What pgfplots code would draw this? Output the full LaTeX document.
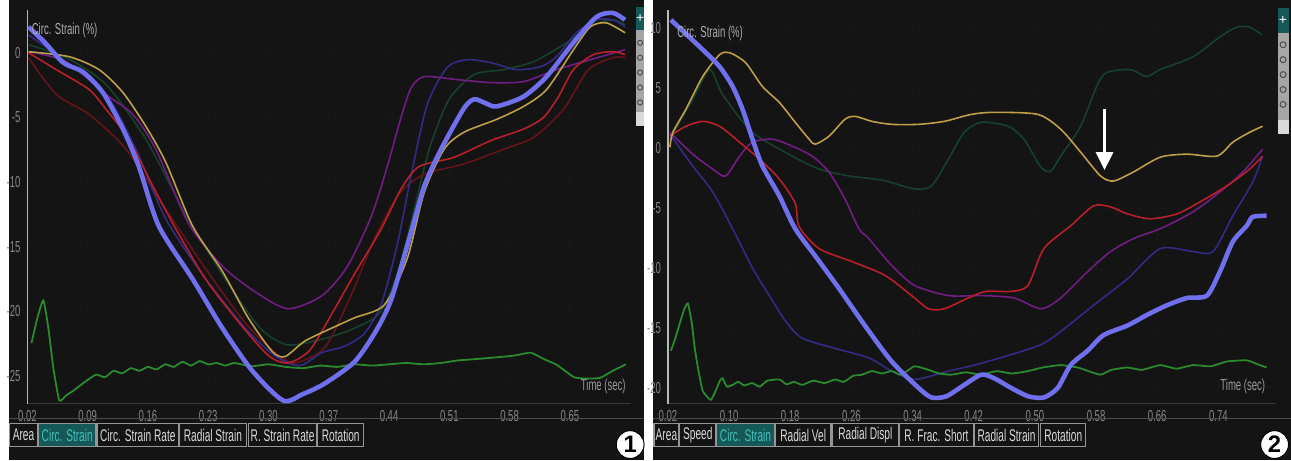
\documentclass[border=0pt]{standalone}
\usepackage{pgfplots}
\pgfplotsset{compat=1.18}
\usetikzlibrary{arrows.meta}
\usepackage{fontspec}
\setmainfont{Liberation Sans}
\newfontfamily\cond[FakeStretch=0.6]{Liberation Sans}
\definecolor{bg}{RGB}{20,20,20}
\definecolor{cblue}{RGB}{112,112,238}
\definecolor{cyel}{RGB}{190,160,72}
\definecolor{cred}{RGB}{185,32,42}
\definecolor{cmar}{RGB}{100,20,26}
\definecolor{cpur}{RGB}{112,30,132}
\definecolor{cnavy}{RGB}{50,44,135}
\definecolor{cdgreen}{RGB}{22,66,44}
\definecolor{cecg}{RGB}{42,138,46}
\definecolor{tickc}{RGB}{135,135,135}
\definecolor{tealbg}{RGB}{20,88,88}
\definecolor{tealtx}{RGB}{70,190,185}
\definecolor{tabline}{RGB}{150,150,150}
\pgfplotsset{
  panel/.style={scale only axis, anchor=south west, height=198pt,
    axis lines=left, axis line style={-},
    x axis line style={draw=white!22!black, line width=0.5pt},
    y axis line style={draw=white!72!black, line width=0.9pt},
    major tick length=0pt, tick style={draw=none},
    grid=major, major grid style={draw=white!11!black, line width=0.4pt, densely dotted},
    tick label style={font=\cond\fontsize{8}{9}\selectfont, text=tickc},
    every axis plot/.append style={smooth, tension=0.45, line width=0.8pt},
  },
}
\newcommand{\tabbox}[3]{%
  \draw[tabline, line width=0.6pt, fill=bg] (#1,14) rectangle (#2,37);
  \node[text=white!85!black, font=\cond\fontsize{8.5}{9}\selectfont, inner sep=0] at ({(#1+#2)/2},25.5) {#3};}
\newcommand{\tabhi}[3]{%
  \draw[tabline, line width=0.6pt, fill=tealbg] (#1,14) rectangle (#2,37);
  \node[text=tealtx, font=\cond\fontsize{8.5}{9}\selectfont, inner sep=0] at ({(#1+#2)/2},25.5) {#3};}
\begin{document}
\begin{tikzpicture}
\begin{scope}[x=0.5pt,y=0.5pt]
\path[use as bounding box] (0,0) rectangle (1291,463);
\fill[white] (0,0) rectangle (1291,463);
\fill[bg] (2,0) rectangle (641,463);
\fill[bg] (650,0) rectangle (1291,463);
\fill[black!92] (650,455) rectangle (1291,463);
\end{scope}

% ---------------- Panel 1 ----------------
\begin{axis}[panel, at={(10.5pt,28.5pt)}, width=303.5pt,
  xmin=0.02, xmax=0.7212, ymin=-27.154, ymax=3.3077,
  xtick={0.02,0.09,0.16,0.23,0.30,0.37,0.44,0.51,0.58,0.65},
  xticklabels={0.02,0.09,0.16,0.23,0.30,0.37,0.44,0.51,0.58,0.65},
  ytick={0,-5,-10,-15,-20,-25}, yticklabels={0,-5,-10,-15,-20,-25}]
\addplot[cdgreen] coordinates {(0.0212,0.62) (0.065,-0.38) (0.1113,-2.46) (0.1575,-6.69) (0.2037,-12.5) (0.2499,-17.5) (0.2903,-21.3) (0.3226,-22.6) (0.3654,-22.1) (0.40,-21.3) (0.4289,-20.15) (0.4497,-17.1) (0.4693,-12.1) (0.4867,-7.46) (0.5098,-3.6) (0.5387,-1.69) (0.5733,-1.31) (0.608,-0.69) (0.6426,0.62) (0.6772,2.15) (0.7004,2.54) (0.7142,2.15)};
\addplot[cmar] coordinates {(0.0212,-0.38) (0.0535,-3.23) (0.0916,-4.77) (0.1344,-7.46) (0.1806,-12.1) (0.2268,-16.7) (0.273,-20.9) (0.3076,-23.2) (0.3307,-24.0) (0.3654,-22.8) (0.3943,-19.0) (0.4231,-14.4) (0.452,-10.9) (0.4809,-9.4) (0.527,-8.6) (0.5733,-7.46) (0.608,-6.54) (0.6426,-4.38) (0.6715,-1.31) (0.7004,-0.38) (0.7142,-0.38)};
\addplot[cnavy] coordinates {(0.0212,1.38) (0.065,-0.69) (0.1113,-3.23) (0.1459,-7.46) (0.1806,-12.85) (0.2268,-17.46) (0.273,-21.3) (0.3076,-23.46) (0.3365,-24.2) (0.3619,-23.2) (0.3885,-22.7) (0.4116,-21.7) (0.4312,-19.4) (0.4497,-14.8) (0.4659,-9.4) (0.4844,-4.0) (0.5075,-1.15) (0.5306,-0.54) (0.5583,-0.77) (0.5883,-1.31) (0.616,-1.08) (0.6345,-0.31) (0.6576,1.54) (0.6807,2.54) (0.7004,2.54) (0.7142,2.0)};
\addplot[cpur] coordinates {(0.0212,0.08) (0.065,-0.7) (0.1113,-3.23) (0.1424,-4.77) (0.169,-7.46) (0.2071,-13.2) (0.2464,-16.5) (0.2845,-18.5) (0.3226,-19.8) (0.3619,-18.8) (0.3919,-16.5) (0.4197,-12.6) (0.4381,-8.77) (0.4543,-4.92) (0.4659,-2.69) (0.4809,-1.85) (0.519,-2.08) (0.5583,-2.31) (0.5964,-2.23) (0.6345,-1.31) (0.6738,-0.54) (0.7142,0.23)};
\addplot[cred] coordinates {(0.0212,0) (0.0535,-1.31) (0.0916,-2.85) (0.1113,-4.38) (0.1378,-6.69) (0.1655,-10.3) (0.1921,-13.6) (0.2268,-17.5) (0.2649,-20.8) (0.2995,-23.4) (0.3226,-24.0) (0.3480,-23.0) (0.3735,-20.2) (0.40,-17.1) (0.4312,-13.6) (0.4543,-10.5) (0.475,-8.8) (0.515,-8.1) (0.5583,-6.8) (0.5964,-5.9) (0.6195,-5.0) (0.6368,-3.4) (0.6542,-1.3) (0.6773,-0.15) (0.7004,0.08) (0.7142,-0.15)};
\addplot[cyel] coordinates {(0.0212,0.08) (0.0685,-0.31) (0.1032,-1.31) (0.1309,-3.08) (0.1575,-5.69) (0.1806,-8.46) (0.2118,-13.4) (0.2464,-16.9) (0.2764,-20.5) (0.3042,-23.1) (0.3192,-23.5) (0.3423,-22.3) (0.3735,-21.3) (0.40,-20.5) (0.4347,-19.5) (0.4612,-15.9) (0.4809,-10.8) (0.504,-7.46) (0.527,-6.15) (0.5652,-5.15) (0.5964,-4.15) (0.623,-2.85) (0.6542,0.23) (0.6738,2.0) (0.6923,2.31) (0.7142,1.54)};
\addplot[cecg, line width=0.9pt, tension=0.3] coordinates {(0.0247,-22.46) (0.0316,-20.5) (0.0385,-19.15) (0.0443,-21.3) (0.0501,-24.4) (0.057,-26.9) (0.065,-26.5) (0.0732,-26.15) (0.0859,-25.5) (0.0997,-24.9) (0.11,-25.1) (0.12,-24.6) (0.13,-24.8) (0.14,-24.4) (0.15,-24.6) (0.16,-24.3) (0.17,-24.5) (0.18,-24.1) (0.19,-24.3) (0.20,-23.9) (0.21,-24.2) (0.22,-23.85) (0.23,-24.1) (0.24,-24.0) (0.25,-24.2) (0.26,-24.0) (0.28,-24.25) (0.30,-24.1) (0.32,-24.3) (0.34,-24.4) (0.36,-24.2) (0.38,-24.3) (0.40,-24.1) (0.42,-24.2) (0.44,-24.1) (0.46,-24.0) (0.48,-24.1) (0.50,-24.0) (0.52,-23.8) (0.54,-23.7) (0.558,-23.6) (0.575,-23.5) (0.588,-23.4) (0.6045,-23.2) (0.62,-23.7) (0.635,-24.15) (0.655,-25.1) (0.67,-25.2) (0.685,-25.15) (0.70,-24.6) (0.715,-24.1)};
\addplot[cblue, line width=2.3pt] coordinates {(0.0212,2.0) (0.040,0.8) (0.0616,-0.77) (0.0847,-1.5) (0.1078,-3.1) (0.1309,-5.9) (0.1494,-8.8) (0.1725,-13.4) (0.2118,-17.5) (0.2464,-21.3) (0.2811,-24.6) (0.3169,-26.9) (0.340,-26.4) (0.365,-25.6) (0.40,-23.9) (0.425,-21.5) (0.443,-19.0) (0.466,-13.8) (0.481,-10.3) (0.5005,-7.46) (0.527,-4.3) (0.539,-3.6) (0.552,-3.9) (0.565,-4.15) (0.596,-3.4) (0.623,-1.85) (0.654,0.77) (0.681,2.77) (0.700,3.08) (0.714,2.54)};
\end{axis}

% ---------------- Panel 2 ----------------
\begin{axis}[panel, at={(332.5pt,28.5pt)}, width=305.5pt,
  xmin=0.02, xmax=0.8148, ymin=-21.328, ymax=11.535,
  xtick={0.02,0.10,0.18,0.26,0.34,0.42,0.50,0.58,0.66,0.74},
  xticklabels={0.02,0.10,0.18,0.26,0.34,0.42,0.50,0.58,0.66,0.74},
  ytick={10,5,0,-5,-10,-15,-20}, yticklabels={10,5,0,-5,-10,-15,-20}]
\addplot[cdgreen] coordinates {(0.0226,0.75) (0.0525,4.07) (0.0746,6.56) (0.0915,4.48) (0.1306,1.33) (0.1826,-0.66) (0.2177,-1.74) (0.2567,-2.32) (0.2997,-2.66) (0.3426,-3.4) (0.3647,-3.15) (0.3868,-0.91) (0.4076,1.33) (0.4298,2.16) (0.4649,1.83) (0.4857,0.75) (0.5078,-1.58) (0.5208,-1.91) (0.5338,-0.66) (0.5598,1.83) (0.5807,5.15) (0.5937,6.31) (0.6249,6.56) (0.6457,5.98) (0.6639,6.56) (0.7068,7.63) (0.7420,9.29) (0.7641,10.1) (0.781,10.1) (0.7966,9.46)};
\addplot[cnavy] coordinates {(0.0226,1.16) (0.0525,-1.49) (0.0785,-3.65) (0.1046,-6.72) (0.1306,-10.0) (0.1527,-12.3) (0.1735,-14.4) (0.1956,-15.85) (0.2385,-16.7) (0.2828,-17.5) (0.3127,-18.6) (0.3426,-19.3) (0.3868,-18.6) (0.4207,-18.1) (0.4649,-17.3) (0.5078,-16.4) (0.5338,-15.3) (0.5768,-13.1) (0.621,-10.9) (0.6639,-8.38) (0.7068,-8.63) (0.7329,-8.63) (0.7589,-5.64) (0.7849,-2.82) (0.7979,-0.66)};
\addplot[cpur] coordinates {(0.0226,1.33) (0.0525,-0.5) (0.0785,-1.74) (0.0954,-2.32) (0.1137,-0.66) (0.1306,0.5) (0.1566,0.75) (0.1826,0.17) (0.2086,-0.66) (0.2307,-1.99) (0.2515,-4.23) (0.2698,-6.72) (0.2828,-7.55) (0.3127,-9.79) (0.3426,-11.45) (0.3868,-12.3) (0.4298,-12.3) (0.4727,-12.5) (0.5078,-13.4) (0.5338,-12.5) (0.5689,-10.3) (0.5989,-8.63) (0.6288,-7.55) (0.6639,-6.72) (0.7068,-5.31) (0.7420,-3.65) (0.7719,-1.99) (0.7979,-0.08)};
\addplot[cred] coordinates {(0.0226,1.0) (0.0434,1.83) (0.0655,2.24) (0.0876,1.83) (0.1137,0.5) (0.1397,-0.91) (0.1657,-2.57) (0.1865,-4.6) (0.1917,-6.56) (0.2177,-8.38) (0.2607,-9.46) (0.3036,-10.6) (0.3387,-12.3) (0.3608,-13.4) (0.3816,-13.4) (0.4128,-12.5) (0.4363,-11.95) (0.4688,-11.95) (0.4909,-11.45) (0.5117,-8.38) (0.5468,-6.47) (0.5768,-4.81) (0.5989,-4.9) (0.621,-5.48) (0.6509,-5.89) (0.686,-5.48) (0.716,-4.48) (0.7511,-3.15) (0.7810,-1.74) (0.7979,-0.66)};
\addplot[cyel] coordinates {(0.0226,0.08) (0.0265,1.33) (0.0434,3.24) (0.0655,5.98) (0.0876,7.8) (0.1006,7.97) (0.1215,7.14) (0.1436,5.15) (0.1657,3.82) (0.1865,2.16) (0.2047,0.75) (0.2125,0.33) (0.2307,1.0) (0.2515,2.41) (0.2646,2.66) (0.2867,2.24) (0.3127,1.99) (0.3478,1.99) (0.3816,2.24) (0.4167,2.82) (0.4467,2.99) (0.5039,2.82) (0.5338,1.58) (0.5598,-0.33) (0.5859,-2.32) (0.6028,-2.74) (0.6288,-1.99) (0.6639,-0.75) (0.699,-0.5) (0.7381,-0.66) (0.7589,0.5) (0.781,1.33) (0.7979,1.83)};
\addplot[cecg, line width=0.9pt, tension=0.3] coordinates {(0.0239,-16.9) (0.030,-15.8) (0.0356,-14.6) (0.041,-13.5) (0.046,-12.95) (0.051,-14.5) (0.0551,-16.7) (0.060,-18.6) (0.0655,-20.25) (0.0759,-21.0) (0.082,-20.3) (0.088,-19.4) (0.0915,-19.2) (0.097,-19.9) (0.1046,-19.75) (0.112,-19.5) (0.12,-19.8) (0.13,-19.6) (0.14,-19.9) (0.15,-19.4) (0.1657,-19.3) (0.175,-19.7) (0.185,-19.5) (0.1956,-19.75) (0.21,-19.4) (0.225,-19.6) (0.2385,-19.3) (0.25,-19.5) (0.262,-19.0) (0.2737,-18.9) (0.2867,-18.6) (0.30,-18.8) (0.3127,-18.6) (0.325,-18.9) (0.3426,-18.2) (0.3608,-18.5) (0.375,-18.8) (0.3907,-18.9) (0.41,-18.7) (0.4298,-18.9) (0.45,-18.6) (0.47,-18.8) (0.4909,-18.6) (0.51,-18.3) (0.5338,-18.1) (0.5559,-18.3) (0.57,-18.6) (0.5859,-18.9) (0.60,-18.5) (0.621,-18.3) (0.64,-18.5) (0.6639,-18.1) (0.685,-18.4) (0.7068,-18.1) (0.73,-18.2) (0.7511,-17.8) (0.7771,-17.7) (0.79,-18.0) (0.8031,-18.3)};
\addplot[cblue, line width=2.3pt] coordinates {(0.0239,10.7) (0.0655,8.22) (0.0876,6.8) (0.1046,5.15) (0.1176,3.24) (0.1306,0.75) (0.1436,-1.49) (0.1657,-3.98) (0.1865,-6.72) (0.2151,-9.2) (0.2437,-11.7) (0.2776,-14.8) (0.3127,-17.8) (0.3478,-20.0) (0.3647,-20.8) (0.3842,-20.7) (0.4076,-19.75) (0.4298,-18.9) (0.4467,-19.2) (0.4688,-20.0) (0.4909,-20.7) (0.5117,-20.8) (0.5299,-20.0) (0.5468,-18.1) (0.5689,-16.9) (0.5898,-15.6) (0.621,-14.8) (0.647,-13.9) (0.673,-13.1) (0.699,-12.5) (0.725,-12.3) (0.742,-10.3) (0.7589,-7.8) (0.7771,-6.47) (0.7849,-5.73) (0.8031,-5.64)};
\end{axis}

\begin{scope}[x=0.5pt,y=0.5pt]
% titles and labels
\node[anchor=west, inner sep=0, text=white!68!black, font=\cond\fontsize{8}{9}\selectfont] at (25,432) {Circ. Strain (\%)};
\node[anchor=west, inner sep=0, text=white!68!black, font=\cond\fontsize{8}{9}\selectfont] at (674,429) {Circ. Strain (\%)};
\node[inner sep=0, text=white!60!black, font=\cond\fontsize{8}{9}\selectfont] at (600,75) {Time (sec)};
\node[inner sep=0, text=white!60!black, font=\cond\fontsize{8}{9}\selectfont] at (1243,75) {Time (sec)};
% separators
\draw[white!30!black, line width=0.5pt] (2,42) -- (641,42);
\draw[white!30!black, line width=0.5pt] (650,42) -- (1291,42);
% tabs panel 1
\tabbox{3}{31}{Area}
\tabhi{32}{90}{Circ. Strain}
\tabbox{91}{173}{Circ. Strain Rate}
\tabbox{174}{241}{Radial Strain}
\tabbox{243}{312}{R. Strain Rate}
\tabbox{313}{359}{Rotation}
% tabs panel 2
\tabbox{651}{676}{Area}
\tabbox{677}{713}{Speed}
\tabhi{714}{772}{Circ. Strain}
\tabbox{773}{829}{Radial Vel}
\tabbox{830}{897}{Radial Displ}
\tabbox{898}{972}{R. Frac. Short}
\tabbox{973}{1038}{Radial Strain}
\tabbox{1040}{1085}{Rotation}
% side toolbars
\fill[tealbg] (633,433) rectangle (641,456);
\node[text=white, font=\fontsize{7}{7}\selectfont, inner sep=0] at (637,444.5) {+};
\fill[white!65!black] (633,336) rectangle (641,433);
\foreach \yy in {420,405,390,375,360} {\draw[black!70, line width=0.5pt] (637,\yy) circle (2.6);}
\fill[white!85!black] (633,336) rectangle (641,350);
\fill[tealbg] (1278,430) rectangle (1289,455);
\node[text=white, font=\fontsize{7}{7}\selectfont, inner sep=0] at (1283.5,442.5) {+};
\fill[white!65!black] (1278,328) rectangle (1289,430);
\foreach \yy in {418,403,388,373,358} {\draw[black!70, line width=0.5pt] (1283.5,\yy) circle (3);}
\fill[white!85!black] (1278,328) rectangle (1289,342);
% arrow
\draw[white, line width=1.6pt, -{Triangle[length=9pt,width=8.5pt]}] (1104,353) -- (1104,292);
% panel numbers
\node[circle, fill=white, draw=black, line width=0.5pt, minimum size=14pt, inner sep=0, font=\bfseries\fontsize{12}{12}\selectfont] at (627,16) {1};
\node[circle, fill=white, draw=black, line width=0.5pt, minimum size=14pt, inner sep=0, font=\bfseries\fontsize{12}{12}\selectfont] at (1275,16) {2};
\end{scope}
\end{tikzpicture}
\end{document}
